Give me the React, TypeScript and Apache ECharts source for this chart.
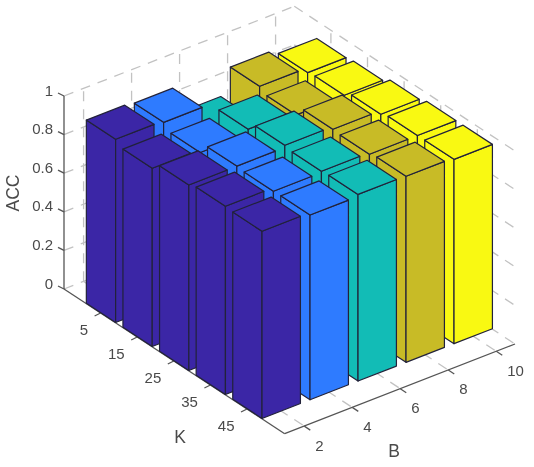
import React, { useEffect, useRef } from "react";
import * as echarts from "echarts";

// Category labels and ticks
const kLabels = ["5", "15", "25", "35", "45"];
const bLabels = ["2", "4", "6", "8", "10"];
const accTicks = [0, 0.2, 0.4, 0.6, 0.8, 1];
const accTickLabels = ["0", "0.2", "0.4", "0.6", "0.8", "1"];

// ACC per K (5..45), one list per B
const accB2 = [0.949, 0.923, 0.961, 0.975, 0.97];
const accB4 = [0.94, 0.908, 0.962, 0.956, 0.957];
const accB6 = [0.8, 0.932, 0.973, 0.963, 0.967];
const accB8 = [0.933, 0.909, 0.959, 0.954, 0.964];
const accB10 = [0.907, 0.914, 0.94, 0.954, 0.955];

const barColors = ["#3B26A6", "#2E7BFF", "#12BCB6", "#C8BB26", "#F9F912"];
const seriesValues = [accB2, accB4, accB6, accB8, accB10];

// Orthographic view of the 3-D box, as in the MATLAB figure
const ORIGIN = [64, 289];
const K_VEC = [36.6, 24];
const B_VEC = [48, -18.7];
const Z_LEN = 193;
const K_RANGE = [0, 6.03];
const B_RANGE = [0.592, 5.39];
const HALF = 0.4;

const project = (k: number, b: number, z: number) => [
  ORIGIN[0] + K_VEC[0] * k + B_VEC[0] * (b - B_RANGE[0]),
  ORIGIN[1] + K_VEC[1] * k + B_VEC[1] * (b - B_RANGE[0]) - Z_LEN * z,
];

const GRID = "#c2c2c2";
const AXIS = "#555555";
const TEXT = "#4a4a4a";
const EDGE = "#22223a";
const FONT = "Liberation Sans";

function frameItem(_p: any, api: any) {
  const c = (k: number, b: number, z: number) => api.coord(project(k, b, z));
  const kMin = K_RANGE[0], kMax = K_RANGE[1], bMin = B_RANGE[0], bMax = B_RANGE[1];
  const children: any[] = [];
  const seg = (a: number[], b: number[], stroke: string, lineWidth: number, dash?: number[]) =>
    children.push({
      type: "line",
      shape: { x1: a[0], y1: a[1], x2: b[0], y2: b[1] },
      style: { stroke, lineWidth, fill: "none", lineDash: dash },
    });
  const text = (t: string, p: number[], fontSize: number, align: string, rotation = 0) =>
    children.push({
      type: "text",
      x: p[0],
      y: p[1],
      rotation,
      style: { text: t, fontSize, fontFamily: FONT, fill: TEXT, align, verticalAlign: "middle" },
    });
  const dash = [10, 8];

  accTicks.forEach((z) => {
    seg(c(kMin, bMin, z), c(kMin, bMax, z), GRID, 1.3, dash);
    seg(c(kMin, bMax, z), c(kMax, bMax, z), GRID, 1.3, dash);
  });
  kLabels.forEach((_, i) => {
    const k = i + 1;
    seg(c(k, bMax, 0), c(k, bMax, 1), GRID, 1.3, dash);
    seg(c(k, bMin, 0), c(k, bMax, 0), GRID, 1.3, dash);
  });
  bLabels.forEach((_, i) => {
    const b = i + 1;
    seg(c(kMin, b, 0), c(kMin, b, 1), GRID, 1.3, dash);
    seg(c(kMin, b, 0), c(kMax, b, 0), GRID, 1.3, dash);
  });

  seg(c(kMin, bMin, 0), c(kMin, bMin, 1), AXIS, 1.3);
  seg(c(kMin, bMin, 0), c(kMax, bMin, 0), AXIS, 1.3);
  seg(c(kMax, bMin, 0), c(kMax, bMax, 0), AXIS, 1.3);

  accTicks.forEach((z, i) => {
    const p = c(kMin, bMin, z);
    seg(p, [p[0] - 6, p[1] - 3], AXIS, 1.3);
    text(accTickLabels[i], [p[0] - 11, p[1] - 6], 15, "right");
  });
  kLabels.forEach((t, i) => {
    const p = c(i + 1, bMin, 0);
    seg(p, [p[0] - 6, p[1] + 3], AXIS, 1.3);
    text(t, [p[0] - 12.5, p[1] + 16], 15, "right");
  });
  bLabels.forEach((t, i) => {
    const p = c(kMax, i + 1, 0);
    seg(p, [p[0] + 6, p[1] + 4], AXIS, 1.3);
    text(t, [p[0] + 11, p[1] + 19], 15, "left");
  });

  text("ACC", api.coord([13, 193]), 17.5, "center", Math.PI / 2);
  text("K", api.coord([180, 437]), 17.5, "center");
  text("B", api.coord([394, 451]), 17.5, "center");
  return { type: "group", children };
}

function barItem(bIndex: number) {
  return (params: any, api: any) => {
    const k = params.dataIndex + 1;
    const b = bIndex + 1;
    const z = api.value(1);
    const c = (kk: number, bb: number, zz: number) => api.coord(project(kk, bb, zz));
    const k0 = k - HALF, k1 = k + HALF, b0 = b - HALF, b1 = b + HALF;
    const style = { fill: barColors[bIndex], stroke: EDGE, lineWidth: 1.2, lineJoin: "round" };
    const face = (points: number[][]) => ({ type: "polygon", shape: { points }, style });
    return {
      type: "group",
      children: [
        face([c(k0, b0, 0), c(k1, b0, 0), c(k1, b0, z), c(k0, b0, z)]),
        face([c(k1, b0, 0), c(k1, b1, 0), c(k1, b1, z), c(k1, b0, z)]),
        face([c(k0, b0, z), c(k1, b0, z), c(k1, b1, z), c(k0, b1, z)]),
      ],
    };
  };
}

export default function App() {
  const ref = useRef<HTMLDivElement>(null);
  useEffect(() => {
    document.body.style.margin = "0";
    const chart = echarts.init(ref.current!, null, { renderer: "svg" });
    const barSeries = seriesValues
      .map((values, i) => ({
        type: "custom" as const,
        name: "B=" + bLabels[i],
        silent: true,
        clip: false,
        renderItem: barItem(i),
        encode: { x: 0, y: 1 },
        data: values.map((v, j) => [j, v]),
      }))
      .reverse();
    chart.setOption({
      animation: false,
      backgroundColor: "#ffffff",
      grid: { left: 0, right: 0, top: 0, bottom: 0 },
      xAxis: { type: "value", min: 0, max: 534, show: false },
      yAxis: { type: "value", min: 0, max: 467, inverse: true, show: false },
      series: [
        { type: "custom", name: "frame", silent: true, clip: false, renderItem: frameItem, data: [[0, 0]] },
        ...barSeries,
      ],
    });
    return () => chart.dispose();
  }, []);
  return <div ref={ref} style={{ width: 534, height: 467, filter: "blur(0.35px)" }} />;
}
